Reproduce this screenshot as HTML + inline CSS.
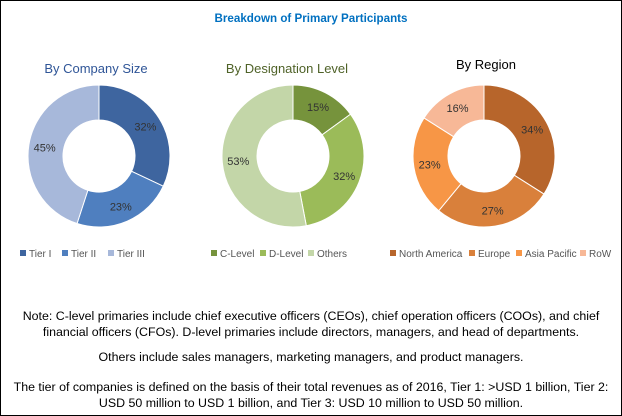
<!DOCTYPE html>
<html><head><meta charset="utf-8"><style>
body{margin:0;width:622px;height:416px;overflow:hidden;background:#fff;font-family:"Liberation Sans",sans-serif}
#b{position:absolute;left:0;top:0;width:620px;height:414px;border:1px solid #000}
.note{position:absolute;left:0;width:622px;text-align:center;font-size:12.4px;color:#000;line-height:16px}
</style></head><body><div id="b"></div>
<svg id="s" width="622" height="416" style="position:absolute;left:0;top:0" font-family="Liberation Sans, sans-serif">
<text x="311" y="22" text-anchor="middle" font-size="12" font-weight="bold" fill="#0070c0" textLength="193" lengthAdjust="spacingAndGlyphs">Breakdown of Primary Participants</text>
<text x="96" y="73" text-anchor="middle" font-size="13" fill="#2f5597">By Company Size</text>
<text x="287" y="73" text-anchor="middle" font-size="13" fill="#4f6228">By Designation Level</text>
<text x="486" y="69" text-anchor="middle" font-size="13" fill="#000">By Region</text>
</svg>
<div class="note" style="top:308px">Note: C-level primaries include chief executive officers (CEOs), chief operation officers (COOs), and chief<br>financial officers (CFOs). D-level primaries include directors, managers, and head of departments.</div>
<div class="note" style="top:349px">Others include sales managers, marketing managers, and product managers.</div>
<div class="note" style="top:379px">The tier of companies is defined on the basis of their total revenues as of 2016, Tier 1: &gt;USD 1 billion, Tier 2:<br>USD 50 million to USD 1 billion, and Tier 3: USD 10 million to USD 50 million.</div>
<script>
var s=document.getElementById('s'),NS='http://www.w3.org/2000/svg';
function el(t,a,txt){var e=document.createElementNS(NS,t);for(var k in a)e.setAttribute(k,a[k]);if(txt)e.textContent=txt;s.appendChild(e);}
function donut(cx,cy,data){var R=71,r=36,a=0;data.forEach(function(d){var a1=a+d[0]/100*2*Math.PI;
function p(rr,an){return [cx+rr*Math.sin(an),cy-rr*Math.cos(an)];}
var o0=p(R,a),o1=p(R,a1),i1=p(r,a1),i0=p(r,a),L=(a1-a)>Math.PI?1:0;
el('path',{d:'M'+o0+'A'+R+','+R+' 0 '+L+' 1 '+o1+'L'+i1+'A'+r+','+r+' 0 '+L+' 0 '+i0+'Z',fill:d[1],stroke:'#fff','stroke-width':1});
var m=(a+a1)/2,q=p(55,m);el('text',{x:q[0],y:q[1]+4,'text-anchor':'middle','font-size':11,fill:'#333'},d[0]+'%');a=a1;});}
donut(99,156,[[32,'#3e659f'],[23,'#4f7fbf'],[45,'#a7b8da']]);
donut(293,156,[[15,'#76933c'],[32,'#9bbb59'],[53,'#c3d6a8']]);
donut(484,156,[[34,'#b7652b'],[27,'#d9803b'],[23,'#f79646'],[16,'#f7b897']]);
function leg(x,c,t){el('rect',{x:x,y:250,width:6,height:6,fill:c});el('text',{x:x+9,y:257,'font-size':10,fill:'#555'},t);}
leg(20,'#3e659f','Tier I');leg(62,'#4f7fbf','Tier II');leg(108,'#a7b8da','Tier III');
leg(211,'#76933c','C-Level');leg(260,'#9bbb59','D-Level');leg(308,'#c3d6a8','Others');
leg(390,'#b7652b','North America');leg(469,'#d9803b','Europe');leg(516,'#f79646','Asia Pacific');leg(580,'#f7b897','RoW');
</script></body></html>
